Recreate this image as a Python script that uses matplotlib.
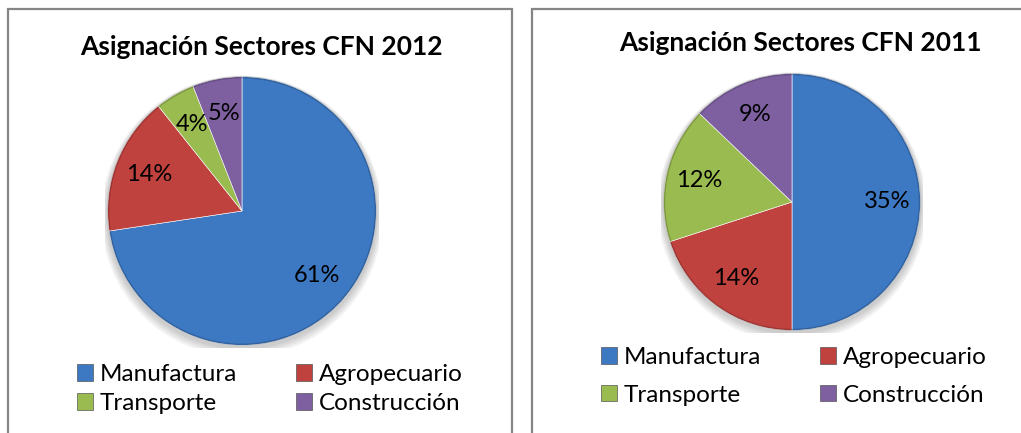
import matplotlib
matplotlib.use("Agg")
import matplotlib.pyplot as plt
from matplotlib.patches import Patch, Rectangle, Circle

plt.rcParams['font.family'] = ['Lato', 'DejaVu Sans']

categories = ["Manufactura", "Agropecuario", "Transporte", "Construcción"]
values_2012 = [61, 14, 4, 5]
values_2011 = [35, 14, 12, 9]
titles = ["Asignación Sectores CFN 2012", "Asignación Sectores CFN 2011"]
colors = ["#3D78C3", "#C0423F", "#9ABB4F", "#7E60A1"]

W, H = 1021, 433
fig = plt.figure(figsize=(W / 100, H / 100), dpi=100)
fig.patch.set_facecolor("white")

def px_axes(cx, cy, r):
    return fig.add_axes([(cx - r) / W, (H - cy - r) / H, 2 * r / W, 2 * r / H])

fig.add_artist(Rectangle((8 / W, -0.05), (512 - 8) / W, (H - 9) / H + 0.05,
                         transform=fig.transFigure, fill=False,
                         edgecolor="#858585", linewidth=1.6))
fig.add_artist(Rectangle((532 / W, -0.05), 0.5, (H - 9) / H + 0.05,
                         transform=fig.transFigure, fill=False,
                         edgecolor="#858585", linewidth=1.6))

specs = [
    dict(values=values_2012, title=titles[0], cx=242, cy=211, r=137,
         tx=261, ty=47, lx=77, ly=364, cs=2.4, ls=0.33),
    dict(values=values_2011, title=titles[1], cx=792, cy=202, r=131,
         tx=800, ty=43, lx=601, ly=347, cs=2.4, ls=0.68),
]

for s in specs:
    ax = px_axes(s["cx"], s["cy"], s["r"])
    for i in range(4):
        ax.add_patch(Circle((0.0, -0.02 - 0.006 * i), 1.0 + 0.012 * (i + 1),
                            facecolor="#000000", alpha=0.05, edgecolor="none", zorder=0))
    vals = s["values"]
    wedges, _t, autot = ax.pie(
        vals, colors=colors, startangle=90, counterclock=False, radius=1.0,
        autopct=lambda p: "", pctdistance=0.74,
        wedgeprops=dict(edgecolor="#ffffff", linewidth=0.4))
    for w in wedges:
        w.set_zorder(2)
    ax.add_patch(Circle((0, 0), 0.995, facecolor="none", edgecolor="#000000",
                        alpha=0.18, linewidth=1.5, zorder=2.5))
    for t, v in zip(autot, vals):
        t.set_text(f"{v}%")
        t.set_fontsize(17)
        t.set_color("black")
        t.set_zorder(3)
    ax.set_xlim(-1.02, 1.02)
    ax.set_ylim(-1.02, 1.02)
    ax.set_aspect("equal")
    ax.axis("off")

    fig.text(s["tx"] / W, 1 - s["ty"] / H, s["title"], ha="center", va="center",
             fontsize=19, fontweight="bold", color="black")

    handles = [Patch(facecolor=c, edgecolor="#555555", linewidth=0.5) for c in colors]
    order = [0, 2, 1, 3]
    fig.legend([handles[i] for i in order], [categories[i] for i in order],
               loc="upper left", bbox_to_anchor=(s["lx"] / W, 1 - s["ly"] / H),
               ncol=2, frameon=False, fontsize=17.5, handlelength=0.65,
               handleheight=0.65, handletextpad=0.3, columnspacing=s["cs"],
               labelspacing=s["ls"], borderpad=0, borderaxespad=0)

fig.savefig("out.png", dpi=100, facecolor="white")
